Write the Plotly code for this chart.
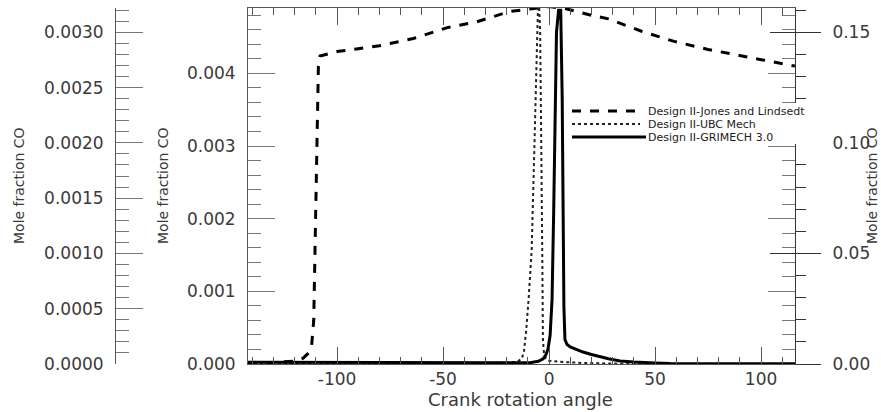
import plotly.graph_objects as go

# Crank angle (deg) and CO mole fraction for each mechanism
angle_jl = [-142, -130, -120, -116, -113.5, -112, -111, -110.3, -109.6, -108.8, -108,
            -100, -90, -80, -64, -48, -34, -19, -8, 0, 8, 18.5, 28, 43.6, 59, 75, 91, 110, 116]
co_jl = [0.00001, 0.00002, 0.00004, 0.00008, 0.00015, 0.00025, 0.0006, 0.0017, 0.0031, 0.0041, 0.00424,
         0.0043, 0.00434, 0.00438, 0.00448, 0.00463, 0.00471, 0.00485, 0.00489, 0.00492, 0.00489,
         0.00481, 0.00475, 0.00458, 0.00444, 0.00433, 0.00424, 0.00413, 0.0041]

angle_ubc = [-142, -60, -25, -15, -12.8, -11.8, -10.8, -9.6, -8.2, -7.0, -6.0, -5.0, -4.2, -3.6,
             -3.2, -2.9, -2.4, -1.5, 0, 5, 15, 40, 116]
co_ubc = [0.0, 0.000005, 0.00001, 0.00002, 0.00005, 0.00012, 0.0003, 0.0006, 0.00103, 0.0019, 0.0029,
          0.0034, 0.0030, 0.0021, 0.0010, 0.00022, 0.0001, 0.00005, 0.00003, 0.00002, 0.00001, 0.0, 0.0]

angle_gri = [-142, -130, -120, -100, -60, -30, -15, -9, -5, -2.8, -1.5, -0.5, 0.5, 1.4, 2.2, 2.8,
             3.5, 4.5, 5.5, 6.2, 6.6, 7.0, 7.5, 8.5, 10, 13, 16, 20, 24, 28, 33.5, 40, 50, 57, 70, 116]
co_gri = [0.0008, 0.0008, 0.0008, 0.0007, 0.0006, 0.0005, 0.0005, 0.0006, 0.0012, 0.0023, 0.0042,
          0.0068, 0.013, 0.029, 0.07, 0.12, 0.15, 0.16, 0.16, 0.12, 0.06, 0.026, 0.011, 0.0088,
          0.0077, 0.0064, 0.0054, 0.0043, 0.0032, 0.0024, 0.0014, 0.0009, 0.0005, 0.0002, 0.0001, 0.0001]

series_names = ["Design II-Jones and Lindsedt", "Design II-UBC Mech", "Design II-GRIMECH 3.0"]
x_ticks = [-100, -50, 0, 50, 100]
x_ticktext = [str(v) for v in x_ticks]

W, H = 881, 412
ML, MR, MT, MB = 0, 0, 8, 48
PW, PH = W - ML - MR, H - MT - MB


def px(x):
    return (x - ML) / PW


def py(y):
    return (H - MB - y) / PH


FONT = "DejaVu Sans"
TXT = "#3a3a3a"
AX = "#555555"

fig = go.Figure()
fig.add_trace(go.Scatter(x=angle_jl, y=co_jl, mode="lines", name=series_names[0], yaxis="y",
                         line=dict(color="black", width=3, dash="dash")))
fig.add_trace(go.Scatter(x=angle_ubc, y=co_ubc, mode="lines", name=series_names[1], yaxis="y2",
                         line=dict(color="#222222", width=2, dash="3px,3px")))
fig.add_trace(go.Scatter(x=angle_gri, y=co_gri, mode="lines", name=series_names[2], yaxis="y3",
                         line=dict(color="black", width=3)))
# invisible trace so the extra right-hand tick axis is drawn
fig.add_trace(go.Scatter(x=[angle_gri[0]], y=[co_gri[0]], yaxis="y4", mode="lines",
                         line=dict(width=0), showlegend=False, hoverinfo="skip"))

tickfont = dict(family=FONT, size=17, color=TXT)

fig.update_layout(
    width=W, height=H, margin=dict(l=ML, r=MR, t=MT, b=MB),
    paper_bgcolor="white", plot_bgcolor="white", showlegend=False,
    xaxis=dict(domain=[px(248), px(795)], range=[-142, 116], tickvals=x_ticks, ticktext=x_ticktext,
               ticks="inside", ticklen=17, tickcolor=AX, tickwidth=1,
               minor=dict(dtick=10, ticks="inside", ticklen=7, tickcolor=AX),
               showline=True, linecolor=AX, linewidth=1, mirror="ticks",
               showgrid=False, zeroline=False, tickfont=tickfont, ticklabelstandoff=0),
    yaxis=dict(range=[0, 0.0049], dtick=0.001, tickformat=".3f", side="left",
               ticks="inside", ticklen=27, tickcolor="#777777",
               minor=dict(dtick=0.0002, ticks="inside", ticklen=13, tickcolor="#777777"),
               showline=True, linecolor=AX, mirror="ticks", showgrid=False, zeroline=False,
               tickfont=tickfont, ticklabelstandoff=8),
    yaxis2=dict(range=[0, 0.00322], dtick=0.0005, tickformat=".4f", overlaying="y",
                anchor="free", position=px(115), side="left",
                ticks="inside", ticklen=27, tickcolor="#777777",
                minor=dict(dtick=0.0001, ticks="inside", ticklen=13, tickcolor="#777777"),
                showline=True, linecolor=AX, showgrid=False, zeroline=False,
                tickfont=tickfont, ticklabelstandoff=8),
    yaxis3=dict(range=[0, 0.161], dtick=0.05, tickformat=".2f", overlaying="y",
                anchor="x", side="right",
                ticks="outside", ticklen=25, tickcolor="#333333",
                minor=dict(dtick=0.01, ticks="outside", ticklen=10, tickcolor="#333333"),
                showline=True, linecolor="#333333", showgrid=False, zeroline=False,
                tickfont=tickfont, ticklabelstandoff=8),
    yaxis4=dict(range=[0, 0.161], dtick=0.05, overlaying="y", anchor="x", side="right",
                ticks="inside", ticklen=25, tickcolor="#333333", showticklabels=False,
                showline=False, showgrid=False, zeroline=False),
)

# axis titles
title_font = dict(family=FONT, size=14, color=TXT)
for xc in (19, 163, 872):
    fig.add_annotation(text="Mole fraction CO", xref="paper", yref="paper",
                       x=px(xc), y=py(186), textangle=-90, showarrow=False,
                       xanchor="center", yanchor="middle", font=title_font)
fig.add_annotation(text="Crank rotation angle", xref="paper", yref="paper",
                   x=px(520), y=py(399), showarrow=False, xanchor="center", yanchor="middle",
                   font=dict(family=FONT, size=18, color=TXT))

# key box with line samples
fig.add_shape(type="rect", xref="paper", yref="paper", x0=px(569), x1=px(826),
              y0=py(103), y1=py(144), fillcolor="white", line=dict(width=0), layer="above")
key_rows = [(111, dict(color="black", width=3, dash="dash"), 640),
            (124, dict(color="#222222", width=2, dash="3px,3px"), 640),
            (137, dict(color="black", width=3), 646)]
for (yr, ln, xend), name in zip(key_rows, series_names):
    fig.add_shape(type="line", xref="paper", yref="paper", x0=px(572), x1=px(xend),
                  y0=py(yr), y1=py(yr), line=ln, layer="above")
    fig.add_annotation(text=name, xref="paper", yref="paper", x=px(647), y=py(yr + 0.5),
                       showarrow=False, xanchor="left", yanchor="middle", borderpad=0,
                       font=dict(family=FONT, size=11, color="#222222"))

fig.write_html("out.html")
